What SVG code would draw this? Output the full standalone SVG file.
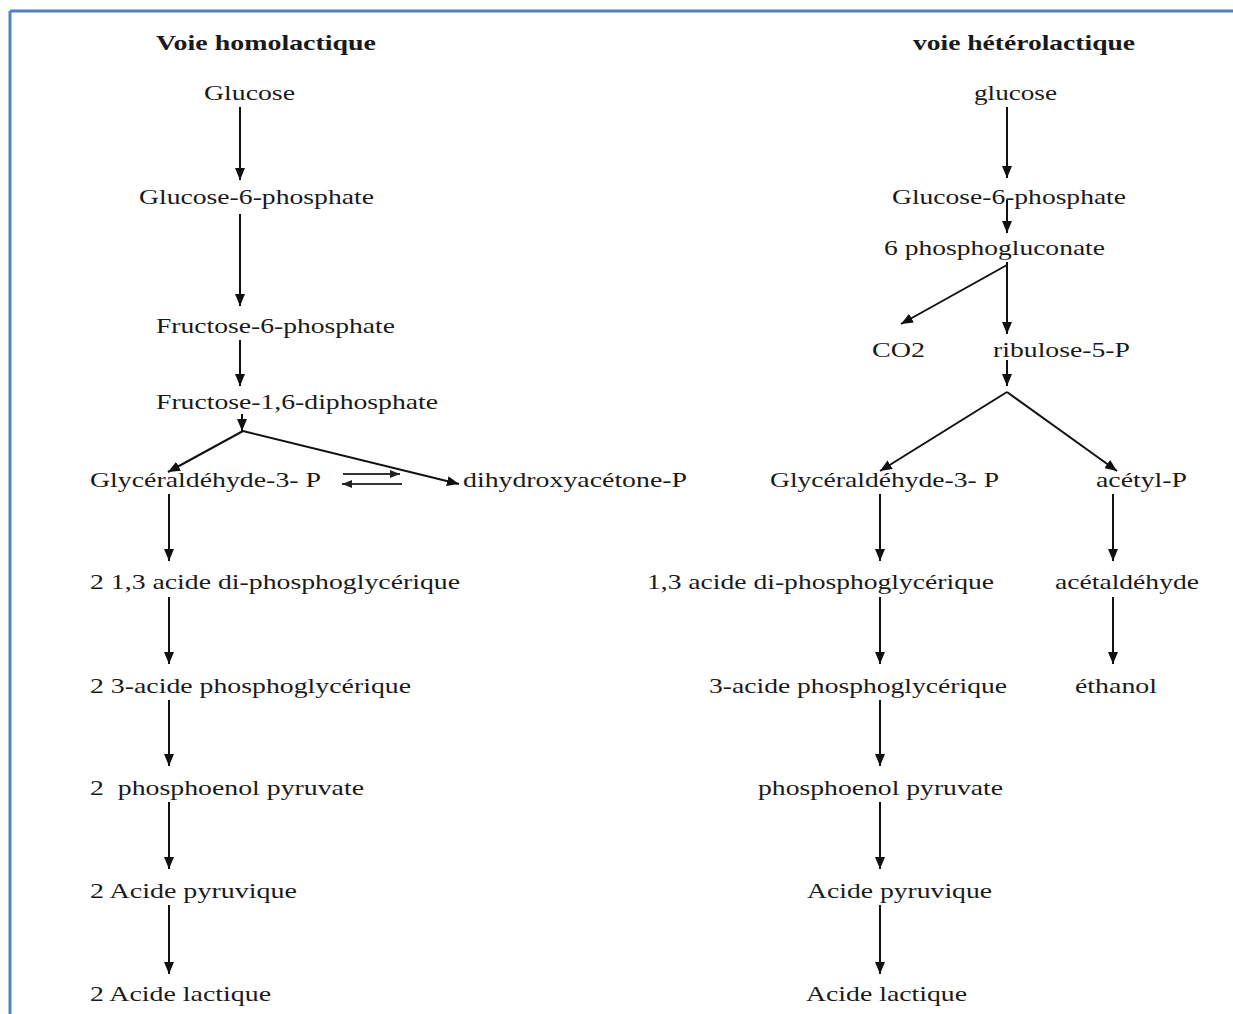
<svg xmlns="http://www.w3.org/2000/svg" width="1233" height="1014" viewBox="0 0 1233 1014">
<defs>
<marker id="ah" viewBox="0 0 12 10" refX="12" refY="5" markerWidth="12" markerHeight="10" markerUnits="userSpaceOnUse" orient="auto">
<path d="M0,0 L12,5 L0,10 z" fill="#111"/>
</marker>
<marker id="ahs" viewBox="0 0 10 8" refX="10" refY="4" markerWidth="10" markerHeight="8" markerUnits="userSpaceOnUse" orient="auto">
<path d="M0,0 L10,4 L0,8 z" fill="#222"/>
</marker>
</defs>
<style>
text{font-family:"Liberation Serif","Times New Roman",serif;font-size:22px;fill:#1a1a1a}
.t{font-weight:bold}
.c line{stroke:#111;stroke-width:2;marker-end:url(#ah)}
.c line.s{stroke:#333;stroke-width:2;marker-end:url(#ahs)}
</style>
<rect width="1233" height="1014" fill="#fff"/>
<g id="border" stroke="#4f81bd" stroke-width="3" fill="none">
<line x1="10" y1="11" x2="1233" y2="11"/>
<line x1="10" y1="11" x2="10" y2="1014"/>
</g>
<g id="connectors" class="c">
<line x1="240" y1="107" x2="240" y2="180"/>
<line x1="240" y1="214" x2="240" y2="306"/>
<line x1="240" y1="340" x2="240" y2="386"/>
<line x1="242" y1="414" x2="242" y2="431"/>
<line x1="243" y1="431" x2="168" y2="472"/>
<line x1="243" y1="431" x2="459" y2="484"/>
<line class="s" x1="343" y1="474" x2="400" y2="474"/>
<line class="s" x1="402" y1="484" x2="342" y2="484"/>
<line x1="169" y1="494" x2="169" y2="561"/>
<line x1="169" y1="597" x2="169" y2="664"/>
<line x1="169" y1="700" x2="169" y2="766"/>
<line x1="169" y1="802" x2="169" y2="869"/>
<line x1="169" y1="905" x2="169" y2="974"/>
<line x1="1007" y1="107" x2="1007" y2="178"/>
<line x1="1007" y1="200" x2="1007" y2="233"/>
<line x1="1007" y1="262" x2="1007" y2="334"/>
<line x1="1007" y1="265" x2="901" y2="324"/>
<line x1="1007" y1="360" x2="1007" y2="386"/>
<line x1="1007" y1="392" x2="880" y2="471"/>
<line x1="1007" y1="392" x2="1117" y2="471"/>
<line x1="880" y1="494" x2="880" y2="561"/>
<line x1="880" y1="597" x2="880" y2="664"/>
<line x1="880" y1="700" x2="880" y2="766"/>
<line x1="880" y1="802" x2="880" y2="869"/>
<line x1="880" y1="905" x2="880" y2="974"/>
<line x1="1113" y1="494" x2="1113" y2="561"/>
<line x1="1113" y1="597" x2="1113" y2="664"/>
</g>
<g id="title-homo"><text class="t" x="156" y="50" textLength="220" lengthAdjust="spacingAndGlyphs">Voie homolactique</text></g>
<g id="title-hetero"><text class="t" x="913" y="50" textLength="222" lengthAdjust="spacingAndGlyphs">voie hétérolactique</text></g>
<g id="L-glucose"><text x="204" y="100" textLength="91" lengthAdjust="spacingAndGlyphs">Glucose</text></g>
<g id="L-g6p"><text x="139" y="204" textLength="235" lengthAdjust="spacingAndGlyphs">Glucose-6-phosphate</text></g>
<g id="L-f6p"><text x="156" y="333" textLength="239" lengthAdjust="spacingAndGlyphs">Fructose-6-phosphate</text></g>
<g id="L-f16dp"><text x="156" y="409" textLength="282" lengthAdjust="spacingAndGlyphs">Fructose-1,6-diphosphate</text></g>
<g id="L-g3p"><text x="90" y="487" textLength="231" lengthAdjust="spacingAndGlyphs">Glycéraldéhyde-3- P</text></g>
<g id="L-dhap"><text x="463" y="487" textLength="224" lengthAdjust="spacingAndGlyphs">dihydroxyacétone-P</text></g>
<g id="L-13dpg"><text x="90" y="589" textLength="370" lengthAdjust="spacingAndGlyphs">2 1,3 acide di-phosphoglycérique</text></g>
<g id="L-3pg"><text x="90" y="693" textLength="321" lengthAdjust="spacingAndGlyphs">2 3-acide phosphoglycérique</text></g>
<g id="L-pep"><text x="90" y="795" textLength="274" lengthAdjust="spacingAndGlyphs" xml:space="preserve">2  phosphoenol pyruvate</text></g>
<g id="L-pyr"><text x="90" y="898" textLength="207" lengthAdjust="spacingAndGlyphs">2 Acide pyruvique</text></g>
<g id="L-lac"><text x="90" y="1001" textLength="181" lengthAdjust="spacingAndGlyphs">2 Acide lactique</text></g>
<g id="R-glucose"><text x="974" y="100" textLength="83" lengthAdjust="spacingAndGlyphs">glucose</text></g>
<g id="R-g6p"><text x="892" y="204" textLength="234" lengthAdjust="spacingAndGlyphs">Glucose-6-phosphate</text></g>
<g id="R-6pg"><text x="884" y="255" textLength="221" lengthAdjust="spacingAndGlyphs">6 phosphogluconate</text></g>
<g id="R-co2"><text x="872" y="357" textLength="53" lengthAdjust="spacingAndGlyphs">CO2</text></g>
<g id="R-ru5p"><text x="993" y="357" textLength="137" lengthAdjust="spacingAndGlyphs">ribulose-5-P</text></g>
<g id="R-g3p"><text x="770" y="487" textLength="229" lengthAdjust="spacingAndGlyphs">Glycéraldéhyde-3- P</text></g>
<g id="R-acetylp"><text x="1096" y="487" textLength="91" lengthAdjust="spacingAndGlyphs">acétyl-P</text></g>
<g id="R-13dpg"><text x="647" y="589" textLength="347" lengthAdjust="spacingAndGlyphs">1,3 acide di-phosphoglycérique</text></g>
<g id="R-acetald"><text x="1055" y="589" textLength="144" lengthAdjust="spacingAndGlyphs">acétaldéhyde</text></g>
<g id="R-3pg"><text x="709" y="693" textLength="298" lengthAdjust="spacingAndGlyphs">3-acide phosphoglycérique</text></g>
<g id="R-ethanol"><text x="1075" y="693" textLength="82" lengthAdjust="spacingAndGlyphs">éthanol</text></g>
<g id="R-pep"><text x="758" y="795" textLength="245" lengthAdjust="spacingAndGlyphs">phosphoenol pyruvate</text></g>
<g id="R-pyr"><text x="807" y="898" textLength="185" lengthAdjust="spacingAndGlyphs">Acide pyruvique</text></g>
<g id="R-lac"><text x="806" y="1001" textLength="161" lengthAdjust="spacingAndGlyphs">Acide lactique</text></g>
</svg>
